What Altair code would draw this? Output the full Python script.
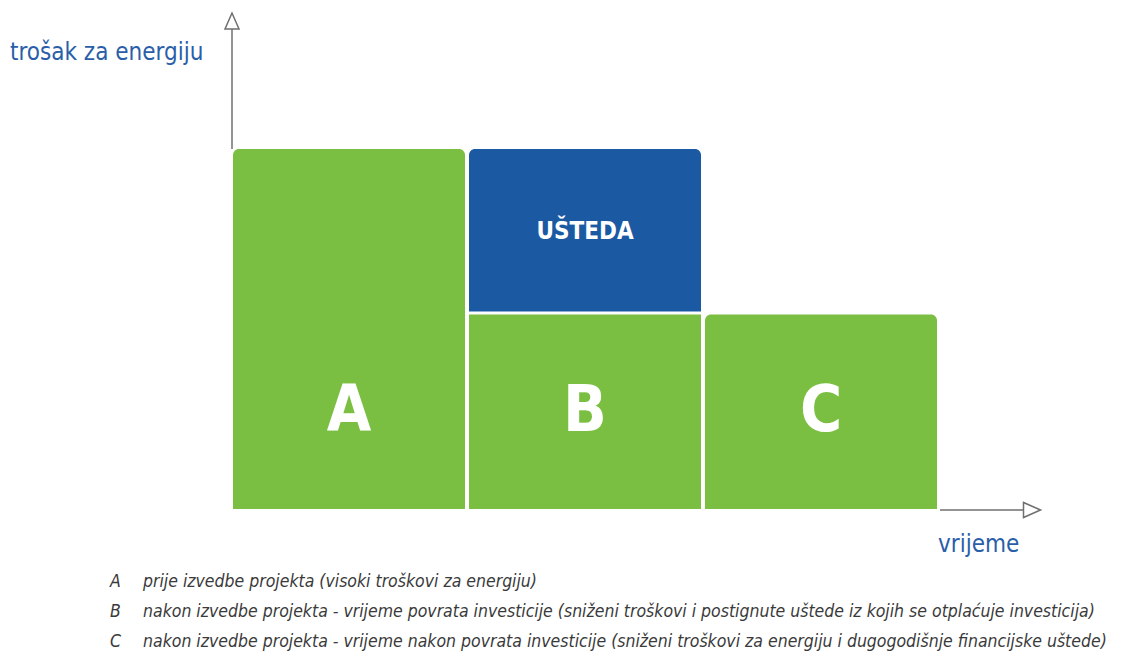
import altair as alt
import pandas as pd

# ---- data ----
phases = ["A", "B", "C"]
period_start = [0, 1, 2]
period_end = [1, 2, 3]
energy_cost = [100, 54, 54]
saving_label = ["UŠTEDA"]
saving_low = [54]
saving_high = [100]
y_title = "trošak za energiju"
x_title = "vrijeme"
legend_letters = ["A", "B", "C"]
legend_texts = [
    "prije izvedbe projekta (visoki troškovi za energiju)",
    "nakon izvedbe projekta - vrijeme povrata investicije (sniženi troškovi i postignute uštede iz kojih se otplaćuje investicija)",
    "nakon izvedbe projekta - vrijeme nakon povrata investicije (sniženi troškovi za energiju i dugogodišnje financijske uštede)",
]

# ---- layout (pixel -> data helpers) ----
W, H = 1123, 643
UX = 236.0          # px per time period
X0 = 223.0          # chart px of t = 0
UY = 3.6            # px per cost unit
Y0 = 501.0          # chart px of cost = 0


def tx(page_x):
    return (page_x - 8 - X0) / UX


def cy(page_y):
    return (Y0 - (page_y - 8)) / UY


xs = alt.Scale(domain=[tx(8), tx(8 + W)], nice=False, zero=False)
ys = alt.Scale(domain=[cy(8 + H), cy(8)], nice=False, zero=False)

GREEN = "#7bbf42"
BLUE = "#1b5aa3"
AXIS = "#6f6f6f"
TXT_BLUE = "#2a5ea8"
TXT_DARK = "#3a3a3a"
FONT = "Liberation Sans Narrow, DejaVu Sans Condensed, sans-serif"

bars = pd.DataFrame({
    "phase": phases,
    "t0": period_start,
    "t1": period_end,
    "c0": [0] * len(phases),
    "c1": energy_cost,
})
bars["mid"] = (bars["t0"] + bars["t1"]) / 2
bars["label_y"] = [min(energy_cost) / 2] * len(phases)

sav = pd.DataFrame({
    "label": saving_label,
    "t0": [period_start[1]],
    "t1": [period_end[1]],
    "lo": saving_low,
    "hi": saving_high,
})
sav["mid"] = (sav["t0"] + sav["t1"]) / 2
sav["cmid"] = (sav["lo"] + sav["hi"]) / 2

X = lambda f: alt.X(f, type="quantitative", scale=xs, axis=None)
Y = lambda f: alt.Y(f, type="quantitative", scale=ys, axis=None)

base_bars = alt.Chart(bars)
rounded = base_bars.mark_rect(
    color=GREEN, xOffset=2, x2Offset=-2,
    cornerRadiusTopLeft=6, cornerRadiusTopRight=6,
).encode(x=X("t0"), x2="t1", y=Y("c0"), y2="c1").transform_filter(
    alt.datum.phase != "B")
square = base_bars.mark_rect(
    color=GREEN, xOffset=2, x2Offset=-2,
).encode(x=X("t0"), x2="t1", y=Y("c0"), y2="c1").transform_filter(
    alt.datum.phase == "B")

saving_rect = alt.Chart(sav).mark_rect(
    color=BLUE, xOffset=2, x2Offset=-2, y2Offset=-3,
    cornerRadiusTopLeft=6, cornerRadiusTopRight=6,
).encode(x=X("t0"), x2="t1", y=Y("hi"), y2="lo")

saving_text = alt.Chart(sav).mark_text(
    color="white", font=FONT, fontSize=24, fontWeight="bold",
    align="center", baseline="middle",
).encode(x=X("mid"), y=Y("cmid"), text="label")

letters = base_bars.mark_text(
    color="white", font=FONT, fontSize=64, fontWeight="bold",
    align="center", baseline="middle",
).encode(x=X("mid"), y=Y("label_y"), text="phase")

# axes with open arrow heads
vax = pd.DataFrame({"x": [tx(232)], "y0": [max(energy_cost)], "y1": [cy(29)], "ya": [cy(21)]})
hax = pd.DataFrame({"y": [cy(510)], "x0": [tx(940)], "x1": [tx(1024)], "xa": [tx(1032)]})

vrule = alt.Chart(vax).mark_rule(color=AXIS, strokeWidth=1.5).encode(
    x=X("x"), y=Y("y0"), y2="y1")
varrow = alt.Chart(vax).mark_point(
    shape="M0,-1L-0.875,1L0.875,1Z", size=256, filled=True,
    fill="white", stroke=AXIS, strokeWidth=1.5, opacity=1,
).encode(x=X("x"), y=Y("ya"))
hrule = alt.Chart(hax).mark_rule(color=AXIS, strokeWidth=1.5).encode(
    y=Y("y"), x=X("x0"), x2="x1")
harrow = alt.Chart(hax).mark_point(
    shape="M1,0L-1,-0.88L-1,0.88Z", size=289, filled=True,
    fill="white", stroke=AXIS, strokeWidth=1.5, opacity=1,
).encode(x=X("xa"), y=Y("y"))

titles = pd.DataFrame({
    "text": [y_title, x_title],
    "x": [tx(10), tx(938)],
    "y": [cy(60), cy(552)],
})
title_text = alt.Chart(titles).mark_text(
    color=TXT_BLUE, font=FONT, fontSize=24, align="left", baseline="alphabetic",
).encode(x=X("x"), y=Y("y"), text="text")

leg = pd.DataFrame({
    "letter": legend_letters,
    "text": legend_texts,
    "i": list(range(len(legend_letters))),
})
leg["y"] = [cy(587 + 30 * i) for i in leg["i"]]
leg["xl"] = tx(110)
leg["xt"] = tx(143)
leg_letters = alt.Chart(leg).mark_text(
    color=TXT_DARK, font=FONT, fontSize=17.5, fontStyle="italic",
    align="left", baseline="alphabetic",
).encode(x=X("xl"), y=Y("y"), text="letter")
leg_text = alt.Chart(leg).mark_text(
    color=TXT_DARK, font=FONT, fontSize=17.5, fontStyle="italic",
    align="left", baseline="alphabetic",
).encode(x=X("xt"), y=Y("y"), text="text")

chart = alt.layer(
    vrule, varrow, hrule, harrow,
    rounded, square, saving_rect, saving_text, letters,
    title_text, leg_letters, leg_text,
).properties(
    width=W, height=H, padding=0, autosize=alt.AutoSizeParams(type="none"),
    background="white",
).configure_view(stroke=None)

chart.save("out.html", embed_options={"renderer": "svg", "actions": False})
